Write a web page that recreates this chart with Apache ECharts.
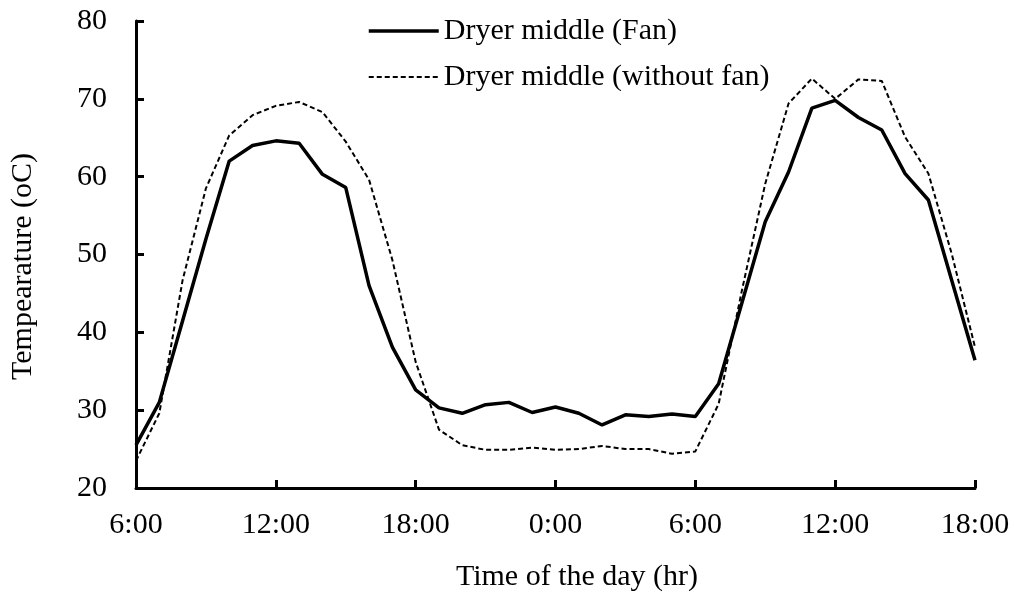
<!DOCTYPE html>
<html>
<head>
<meta charset="utf-8">
<script src="https://cdn.jsdelivr.net/npm/echarts@6/dist/echarts.min.js"></script>
<style>
  html, body { margin: 0; padding: 0; background: #fff; }
  #main { width: 1014px; height: 599px; }
</style>
</head>
<body>
<div id="main"></div>
<script>
// hourly readings, 6:00 day 1 to 18:00 day 2
var hours = ['6:00','7:00','8:00','9:00','10:00','11:00','12:00','13:00','14:00','15:00','16:00','17:00',
  '18:00','19:00','20:00','21:00','22:00','23:00','0:00','1:00','2:00','3:00','4:00','5:00',
  '6:00','7:00','8:00','9:00','10:00','11:00','12:00','13:00','14:00','15:00','16:00','17:00','18:00'];

var withFan = [25.5,31.0,41.5,52.0,62.0,64.0,64.6,64.3,60.3,58.6,46.0,38.1,
  32.6,30.3,29.6,30.7,31.0,29.7,30.4,29.6,28.1,29.4,29.2,29.5,
  29.2,33.4,43.8,54.2,60.6,68.8,69.8,67.6,66.0,60.4,57.0,46.7,36.4];

var withoutFan = [23.5,29.6,46.7,58.5,65.3,67.9,69.1,69.6,68.3,64.5,59.6,49.3,
  36.2,27.5,25.5,24.9,24.9,25.2,24.9,25.0,25.4,25.0,25.0,24.4,
  24.7,30.8,45.4,59.1,69.4,72.6,70.0,72.5,72.3,65.1,60.4,50.1,38.1];

var seriesNames = ['Dryer middle (Fan)', 'Dryer middle (without fan)'];

var font = 'Liberation Serif';
var solidLine = { color: '#000', width: 3.5 };
var dashLine = { color: '#000', width: 2, type: [5, 3] };

var myChart = echarts.init(document.getElementById('main'));
var option = {
  animation: false,
  textStyle: { fontFamily: font, color: '#000' },
  grid: { left: 136, right: 39, top: 21, bottom: 111 },
  legend: {
    data: [
      { name: seriesNames[0], lineStyle: solidLine },
      { name: seriesNames[1], lineStyle: dashLine }
    ],
    orient: 'vertical',
    left: 362,
    top: 11,
    itemWidth: 70,
    itemHeight: 30,
    itemGap: 16,
    itemStyle: { opacity: 0 },
    textStyle: { fontFamily: font, fontSize: 30, color: '#000' }
  },
  xAxis: {
    type: 'category',
    data: hours,
    boundaryGap: false,
    name: 'Time of the day (hr)',
    nameLocation: 'middle',
    nameGap: 74,
    nameTextStyle: { fontFamily: font, fontSize: 30, color: '#000', padding: [0, 0, 0, 43] },
    axisLine: { lineStyle: { color: '#000', width: 3 } },
    axisTick: { interval: 5, inside: true, length: 8, lineStyle: { color: '#000', width: 3 } },
    axisLabel: { interval: 5, margin: 22, fontFamily: font, fontSize: 30, color: '#000' },
    splitLine: { show: false }
  },
  yAxis: {
    type: 'value',
    min: 20,
    max: 80,
    interval: 10,
    name: 'Tempearature (oC)',
    nameLocation: 'middle',
    nameGap: 98,
    nameTextStyle: { fontFamily: font, fontSize: 30, color: '#000', padding: [0, 24, 0, 0] },
    axisLine: { show: true, lineStyle: { color: '#000', width: 3 } },
    axisTick: { show: true, inside: true, length: 8, lineStyle: { color: '#000', width: 3 } },
    axisLabel: { margin: 29, fontFamily: font, fontSize: 30, color: '#000' },
    splitLine: { show: false }
  },
  series: [
    {
      name: seriesNames[0],
      type: 'line',
      data: withFan,
      symbol: 'none',
      lineStyle: solidLine,
      itemStyle: { color: '#000' }
    },
    {
      name: seriesNames[1],
      type: 'line',
      data: withoutFan,
      symbol: 'none',
      lineStyle: dashLine,
      itemStyle: { color: '#000' }
    }
  ]
};
myChart.setOption(option);
</script>
</body>
</html>
